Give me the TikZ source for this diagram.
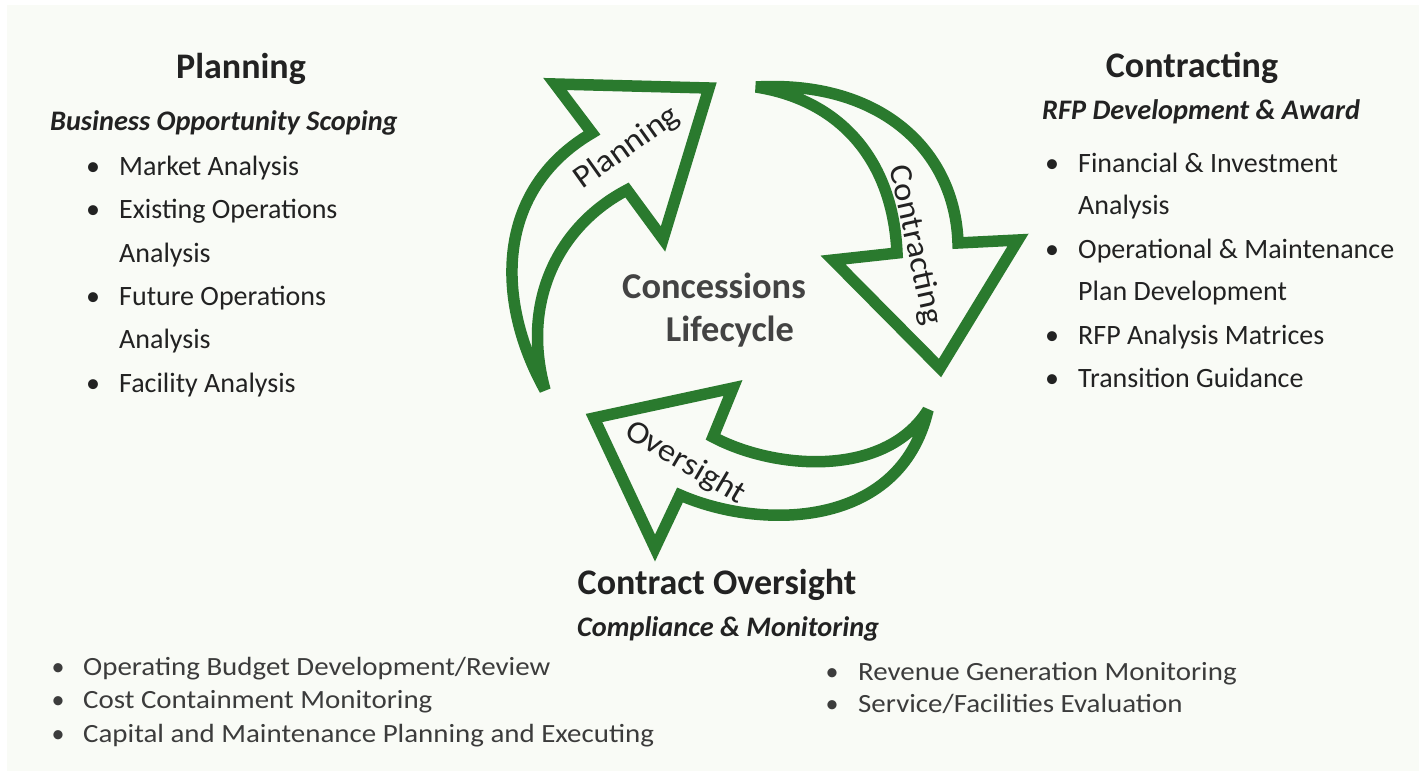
\documentclass[tikz,border=0pt]{standalone}
\usepackage{fontspec}
\setmainfont{Carlito}
\definecolor{bgc}{RGB}{249,251,246}
\definecolor{grn}{RGB}{42,122,46}
\definecolor{txt}{RGB}{34,34,34}
\definecolor{txtb}{RGB}{60,60,60}
\newcommand{\wid}[1]{\scalebox{1.1}[1]{#1}}
\tikzset{
  arrowshape/.style={draw=grn, line width=11.5pt, line join=miter, miter limit=4, fill=bgc},
  hdr/.style={font=\fontsize{36}{40}\selectfont\bfseries, text=txt, inner sep=0pt, anchor=base},
  subhdr/.style={font=\fontsize{28.3}{32}\selectfont\bfseries\itshape, text=txt, inner sep=0pt, anchor=base west},
  itm/.style={font=\fontsize{28}{32}\selectfont, text=txt, inner sep=0pt, anchor=base west},
  bul/.style={font=\fontsize{28}{32}\selectfont, text=txt, inner sep=0pt, anchor=base},
  botitm/.style={font=\fontsize{26.3}{30}\selectfont, text=txtb, inner sep=0pt, anchor=base west},
  botbul/.style={font=\fontsize{26}{30}\selectfont, text=txtb, inner sep=0pt, anchor=base},
  ctr/.style={font=\fontsize{36.4}{40}\selectfont\bfseries, text=txt!85!white, inner sep=0pt, anchor=base},
  arrlbl/.style={font=\fontsize{32}{34}\selectfont, text=txt, inner sep=0pt}
}
\begin{document}
\begin{tikzpicture}[x=1pt,y=-1pt]
\useasboundingbox (0,0) rectangle (1426,773);
\fill[white] (0,0) rectangle (1426,773);
\fill[bgc] (7,5) rectangle (1419,771);

% Planning arrow
\draw[arrowshape] (545,390) .. controls (495,300) and (495,190) .. (592,133)
  -- (555,84) -- (709,88) -- (663,239) -- (627,190)
  .. controls (560,225) and (520,300) .. cycle;
% Contracting arrow
\draw[arrowshape] (756,87) .. controls (880,80) and (955,150) .. (958,243)
  -- (1018,240) -- (940,368) -- (833,260) -- (897,253)
  .. controls (893,160) and (840,100) .. cycle;
% Oversight arrow
\draw[arrowshape] (928,410) .. controls (900,530) and (760,530) .. (680,495)
  -- (655,548) -- (594,418) -- (733,388) -- (713,437)
  .. controls (775,470) and (885,478) .. cycle;

% arrow labels
\node[arrlbl, rotate=35.5] (lp) at (627,148) {\scalebox{1.08}[1]{Planning}};
\node[arrlbl, rotate=-77.5] (lc) at (915,245) {\scalebox{1.08}[1]{Contracting}};
\node[arrlbl, rotate=-30.5] (lo) at (685,463) {\scalebox{1.08}[1]{Oversight}};

% center
\node[ctr] (c1) at (714,298) {Concessions};
\node[ctr] (c2) at (730,341) {Lifecycle};

% Planning column
\node[hdr] (ph) at (241,79) {Planning};
\node[subhdr] (ps) at (50,131) {Business Opportunity Scoping};
\node[bul] (pb1) at (93,175) {•};
\node[itm] (p1) at (119,175) {Market Analysis};
\node[bul] (pb2) at (93,218) {•};
\node[itm] (p2) at (119,218) {Existing Operations};
\node[itm] (p2b) at (119,262) {Analysis};
\node[bul] (pb3) at (93,305) {•};
\node[itm] (p3) at (119,305) {Future Operations};
\node[itm] (p3b) at (119,348) {Analysis};
\node[bul] (pb4) at (93,392) {•};
\node[itm] (p4) at (119,392) {Facility Analysis};

% Contracting column
\node[hdr] (ch) at (1192,78) {Contracting};
\node[subhdr] (cs) at (1042,120) {RFP Development \& Award};
\node[bul] (cb1) at (1052,172) {•};
\node[itm] (c1a) at (1078,172) {Financial \& Investment};
\node[itm] (c1b) at (1078,214) {Analysis};
\node[bul] (cb2) at (1052,258) {•};
\node[itm] (c2a) at (1078,258) {Operational \& Maintenance};
\node[itm] (c2b) at (1078,300) {Plan Development};
\node[bul] (cb3) at (1052,344) {•};
\node[itm] (c3) at (1078,344) {RFP Analysis Matrices};
\node[bul] (cb4) at (1052,387) {•};
\node[itm] (c4) at (1078,387) {Transition Guidance};

% Oversight
\node[hdr] (oh) at (717,594) {Contract Oversight};
\node[subhdr] (os) at (577,636) {Compliance \& Monitoring};
\node[botbul] (ob1) at (58,675) {•};
\node[botitm] (o1) at (83,675) {\wid{Operating Budget Development/Review}};
\node[botbul] (ob2) at (58,708) {•};
\node[botitm] (o2) at (83,708) {\wid{Cost Containment Monitoring}};
\node[botbul] (ob3) at (58,742) {•};
\node[botitm] (o3) at (83,742) {\wid{Capital and Maintenance Planning and Executing}};
\node[botbul] (ob4) at (832,680) {•};
\node[botitm] (o4) at (858,680) {\wid{Revenue Generation Monitoring}};
\node[botbul] (ob5) at (832,712) {•};
\node[botitm] (o5) at (858,712) {\wid{Service/Facilities Evaluation}};
\end{tikzpicture}
\end{document}
